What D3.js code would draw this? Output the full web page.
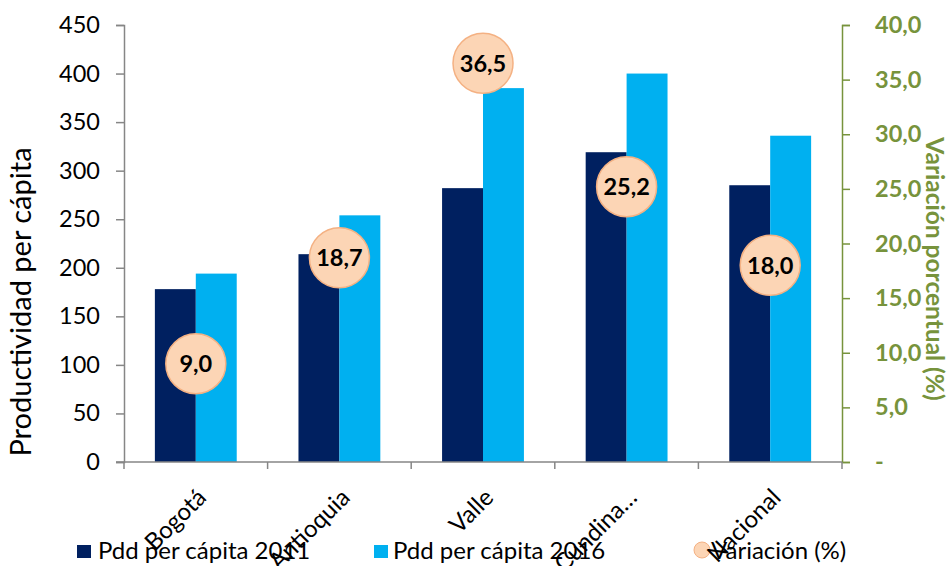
<!DOCTYPE html>
<html lang="es">
<head>
  <meta charset="UTF-8">
  <title>Productividad per cápita</title>
  <script src="https://d3js.org/d3.v7.min.js"></script>
  <style>
    body { margin: 0; background: #fff; }
    svg { font-family: Lato, "Open Sans", sans-serif; }
  </style>
</head>
<body>
  <svg id="svg" width="950" height="566"></svg>
  <script>
    // datos
    var categories = ["Bogotá", "Antioquia", "Valle", "Cundinamarca", "Nacional"]
    var tickLabels = ["Bogotá", "Antioquia", "Valle", "Cundina…", "Nacional"]
    var series = ["Pdd per cápita 2011", "Pdd per cápita 2016"]
    var pdd2011 = [178, 214, 282, 319, 285]
    var pdd2016 = [194, 254, 385, 400, 336]
    var variacion = [9.0, 18.7, 36.5, 25.2, 18.0]
    var leftTicks = [0, 50, 100, 150, 200, 250, 300, 350, 400, 450]
    var rightTicks = [0, 5, 10, 15, 20, 25, 30, 35, 40]

    var colors = ["#002060", "#00B0F0"]
    var green = "#77933C"
    var axisGrey = "#868686"

    // area del grafico
    var plotL = 124, plotR = 842, plotT = 25, plotB = 462

    var svg = d3.select("svg")

    var x = d3.scaleBand()
      .domain(categories)
      .range([plotL, plotR])
      .paddingInner(0.43)
      .paddingOuter(0.215)

    var xs = d3.scaleBand()
      .domain(series)
      .range([0, x.bandwidth()])

    var y = d3.scaleLinear().domain([0, 450]).range([plotB, plotT])
    var y2 = d3.scaleLinear().domain([0, 40]).range([plotB, plotT])

    var fmt = d => d === 0 ? "-" : d3.format(".1f")(d).replace(".", ",")

    // barras
    var rows = categories.map((c, i) => ({ cat: c, vals: [pdd2011[i], pdd2016[i]] }))
    var groups = svg.append("g").selectAll("g")
      .data(rows)
      .enter()
      .append("g")
      .attr("transform", d => "translate(" + x(d.cat) + ",0)")
    groups.selectAll("rect")
      .data(d => d.vals.map((v, j) => ({ s: series[j], v: v, j: j })))
      .enter()
      .append("rect")
      .attr("x", d => xs(d.s))
      .attr("width", xs.bandwidth())
      .attr("y", d => y(d.v))
      .attr("height", d => plotB - y(d.v))
      .style("fill", d => colors[d.j])

    // eje izquierdo
    var yAxis = svg.append("g")
      .attr("transform", "translate(" + plotL + ",0)")
      .call(d3.axisLeft(y).tickValues(leftTicks).tickSize(8).tickPadding(16).tickSizeOuter(8))
    yAxis.selectAll("path, line").attr("stroke", axisGrey).attr("stroke-width", 1.5)
    yAxis.selectAll("text").attr("font-size", 23.5).attr("fill", "#000").attr("font-family", "Lato")

    // eje derecho
    var yAxis2 = svg.append("g")
      .attr("transform", "translate(" + plotR + ",0)")
      .call(d3.axisRight(y2).tickValues(rightTicks).tickFormat(fmt).tickSize(8).tickPadding(25).tickSizeOuter(8))
    yAxis2.selectAll("path, line").attr("stroke", green).attr("stroke-width", 1.5)
    yAxis2.selectAll("text").attr("font-size", 23.5).attr("font-weight", "bold").attr("fill", green).attr("font-family", "Lato")

    // eje x
    var xTicks = d3.range(categories.length + 1).map(i => plotL + i * x.step())
    svg.append("line")
      .attr("x1", plotL - 8).attr("x2", plotR)
      .attr("y1", plotB).attr("y2", plotB)
      .attr("stroke", axisGrey).attr("stroke-width", 1.5)
    svg.selectAll(".xtick")
      .data(xTicks)
      .enter()
      .append("line")
      .attr("x1", d => d).attr("x2", d => d)
      .attr("y1", plotB).attr("y2", plotB + 7)
      .attr("stroke", axisGrey).attr("stroke-width", 1.5)

    // circulos de variacion
    var bubbles = svg.append("g").selectAll("g")
      .data(categories)
      .enter()
      .append("g")
      .attr("transform", (d, i) => "translate(" + (x(d) + x.bandwidth() / 2) + "," + y2(variacion[i]) + ")")
    bubbles.append("circle")
      .attr("r", 30)
      .style("fill", "#FCD5B5")
      .style("stroke", "#F4B183")
      .style("stroke-width", 1.5)
    bubbles.append("text")
      .attr("text-anchor", "middle")
      .attr("dy", "0.36em")
      .attr("font-size", 23.5)
      .attr("font-weight", "bold")
      .text((d, i) => fmt(variacion[i]))

    // titulos
    svg.append("text")
      .attr("transform", "translate(31,302) rotate(-90)")
      .attr("text-anchor", "middle")
      .attr("font-size", 29)
      .text("Productividad per cápita")
    svg.append("text")
      .attr("transform", "translate(926,269) rotate(90)")
      .attr("text-anchor", "middle")
      .attr("font-size", 24.5)
      .attr("font-weight", "bold")
      .attr("fill", green)
      .text("Variación porcentual (%)")

    // leyenda
    var leg = svg.append("g")
    leg.append("rect").attr("x", 77).attr("y", 545).attr("width", 14).attr("height", 13).style("fill", colors[0])
    leg.append("text").attr("x", 98).attr("y", 559).attr("font-size", 24).text(series[0])
    leg.append("rect").attr("x", 374).attr("y", 545).attr("width", 14).attr("height", 13).style("fill", colors[1])
    leg.append("text").attr("x", 393).attr("y", 559).attr("font-size", 24).text(series[1])
    leg.append("circle").attr("cx", 702).attr("cy", 550).attr("r", 8)
      .style("fill", "#FCD5B5").style("stroke", "#F4B183").style("stroke-width", 1)
    leg.append("text").attr("x", 711).attr("y", 559).attr("font-size", 24).text("Variación (%)")

    // etiquetas x rotadas
    svg.selectAll(".xlab")
      .data(categories)
      .enter()
      .append("text")
      .attr("transform", d => "translate(" + (x(d) + x.bandwidth() / 2 + 12) + ",499) rotate(-45)")
      .attr("text-anchor", "end")
      .attr("font-size", 24)
      .text((d, i) => tickLabels[i])
  </script>
</body>
</html>
